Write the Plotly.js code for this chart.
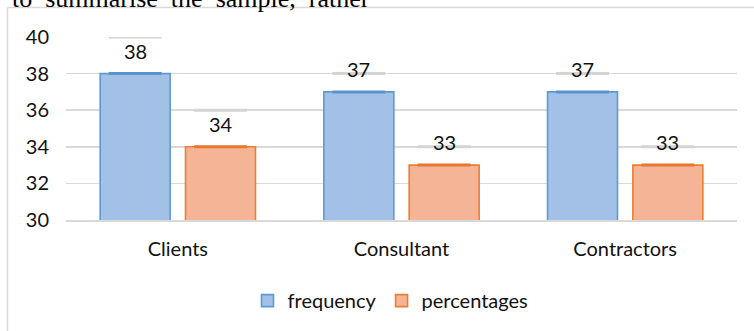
<!DOCTYPE html>
<html>
<head>
<meta charset="utf-8">
<script src="https://cdn.plot.ly/plotly-3.0.1.min.js"></script>
<style>html,body{margin:0;padding:0;background:#fff;}#chart{width:754px;height:331px;}</style>
</head>
<body>
<div id="chart"></div>
<script>
const categories = ["Clients", "Consultant", "Contractors"];
const frequency = [38, 37, 37];
const percentages = [34, 33, 33];
const seriesNames = ["frequency", "percentages"];
const yTicks = [30, 32, 34, 36, 38, 40];

const FONT = "Lato, 'Open Sans', sans-serif";
const FS = 20;
const TXT = "#111111";
const blueFill = "#a3c1e6", blueLine = "#5b9bd5", blueTop = "#5a92cf";
const orangeFill = "#f6b496", orangeLine = "#ed7d31", orangeTop = "#e8762d";

// gridline above each data label (rendered slightly thicker in the source)
const gridAbove = arr => arr.map(v => 2 * Math.floor(v / 2) + 2);

function helper(vals, group) {
  return {
    type: "bar", x: categories, y: gridAbove(vals), offsetgroup: group,
    marker: {color: "rgba(0,0,0,0)", line: {width: 0}},
    error_y: {type: "data", array: vals.map(() => 0), visible: true,
              color: "#d4d4d4", thickness: 3, width: 26.5},
    showlegend: false, hoverinfo: "skip"
  };
}

const data = [
  helper(frequency, "a"),
  helper(percentages, "b"),
  {
    type: "bar", name: seriesNames[0], x: categories, y: frequency, offsetgroup: "a",
    marker: {color: blueFill, line: {color: blueLine, width: 1.6}},
    error_y: {type: "data", array: frequency.map(() => 0), visible: true,
              color: blueTop, thickness: 3, width: 26.5}
  },
  {
    type: "bar", name: seriesNames[1], x: categories, y: percentages, offsetgroup: "b",
    marker: {color: orangeFill, line: {color: orangeLine, width: 1.6}},
    error_y: {type: "data", array: percentages.map(() => 0), visible: true,
              color: orangeTop, thickness: 3, width: 26.5}
  }
];

const annotations = [];
categories.forEach((c, i) => {
  annotations.push({x: c, y: frequency[i], xref: "x", yref: "y", text: String(frequency[i]),
    showarrow: false, xshift: -42.7, yshift: 23, yanchor: "middle",
    font: {family: FONT, size: FS, color: TXT}});
  annotations.push({x: c, y: percentages[i], xref: "x", yref: "y", text: String(percentages[i]),
    showarrow: false, xshift: 42.7, yshift: 23, yanchor: "middle",
    font: {family: FONT, size: FS, color: TXT}});
});
annotations.push({
  xref: "paper", yref: "paper", x: -0.083, y: 1.122, xanchor: "left", yanchor: "bottom",
  text: "to\u00a0\u00a0summarise\u00a0\u00a0the\u00a0\u00a0sample,\u00a0\u00a0rather",
  showarrow: false, font: {family: "'Liberation Serif', 'Times New Roman', serif", size: 26, color: "#000"}
});

const layout = {
  width: 754, height: 331,
  margin: {l: 66, r: 17, t: 37, b: 110, pad: 0},
  paper_bgcolor: "#fff", plot_bgcolor: "#fff",
  barmode: "group", bargap: 0.237, bargroupgap: 0.18,
  font: {family: FONT, size: FS, color: TXT},
  xaxis: {
    type: "category", showgrid: false, showline: true, linecolor: "#d9d9d9", linewidth: 2,
    ticks: "", ticklabelstandoff: 10, tickfont: {family: FONT, size: FS, color: TXT},
    fixedrange: true
  },
  yaxis: {
    range: [30, 40], tickvals: yTicks, showgrid: true, gridcolor: "#d9d9d9", gridwidth: 1.6,
    zeroline: false, showline: false, ticks: "", ticklabelstandoff: 16,
    tickfont: {family: FONT, size: FS, color: TXT}, fixedrange: true
  },
  legend: {
    orientation: "h", x: 0.4836, xanchor: "center", y: -0.433, yanchor: "middle",
    font: {family: FONT, size: FS, color: TXT}, traceorder: "normal",
    itemclick: false
  },
  annotations: annotations,
  shapes: [
    {type: "line", xref: "paper", yref: "paper", x0: -0.0872, x1: -0.0872, y0: 1.161, y1: -0.62,
     line: {color: "#d9d9d9", width: 1.5}},
    {type: "line", xref: "paper", yref: "paper", x0: -0.0872, x1: 1.1, y0: 1.161, y1: 1.161,
     line: {color: "#d9d9d9", width: 1.5}}
  ],
  showlegend: true
};

Plotly.newPlot("chart", data, layout, {displayModeBar: false, staticPlot: true});
</script>
</body>
</html>
